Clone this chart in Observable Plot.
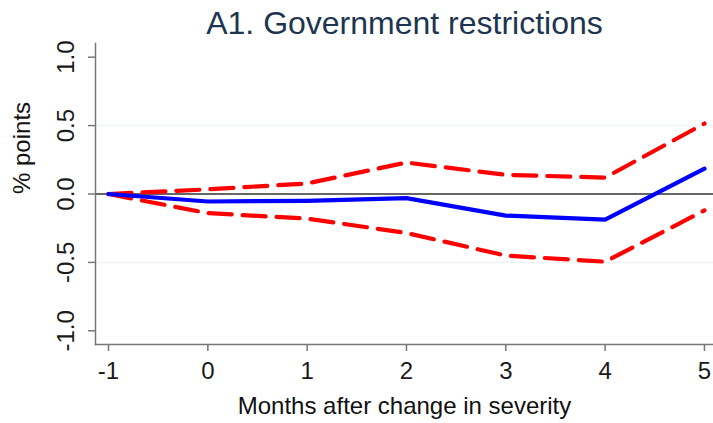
<!DOCTYPE html>
<html>
<head>
<meta charset="utf-8">
<script src="https://cdn.jsdelivr.net/npm/d3@7"></script>
<script src="https://cdn.jsdelivr.net/npm/@observablehq/plot@0.6"></script>
<style>
  html, body { margin: 0; padding: 0; background: #fff; }
  #chart svg { display: block; }
</style>
</head>
<body>
<div id="chart"></div>
<script>
// Event-study response of government restrictions (percentage points)
const months   = [-1, 0, 1, 2, 3, 4, 5];
const estimate = [0, -0.055, -0.05, -0.03, -0.158, -0.187, 0.185];
const upper    = [0, 0.034, 0.077, 0.23, 0.14, 0.12, 0.515];
const lower    = [0, -0.14, -0.18, -0.285, -0.45, -0.495, -0.12];

const xTicks = [-1, 0, 1, 2, 3, 4, 5];
const yTicks = [-1, -0.5, 0, 0.5, 1];
const gridTicks = [-0.5, 0.5];

const title = "A1. Government restrictions";
const xLabel = "Months after change in severity";
const yLabel = "% points";

const rows = (vals) => months.map((m, i) => ({month: m, value: vals[i]}));

const font = "'Liberation Sans', Arial, sans-serif";

const chart = Plot.plot({
  width: 713,
  height: 423,
  marginTop: 43,
  marginBottom: 79,
  marginLeft: 95,
  marginRight: 0,
  style: {fontFamily: font, background: "#fff", overflow: "visible"},
  x: {domain: [-1.131, 5.091]},
  y: {domain: [-1.1, 1.1]},
  marks: [
    // light gridlines at interior ticks
    Plot.ruleY(gridTicks, {stroke: "#eef3f3", strokeWidth: 1.5}),
    // reference line at zero
    Plot.ruleY([0], {stroke: "#333", strokeWidth: 1.3}),
    // confidence band edges
    Plot.line(rows(upper), {x: "month", y: "value", stroke: "#ff0000", strokeWidth: 4.2, strokeDasharray: "23,11", strokeLinejoin: "miter"}),
    Plot.line(rows(lower), {x: "month", y: "value", stroke: "#ff0000", strokeWidth: 4.2, strokeDasharray: "23,11", strokeLinejoin: "miter"}),
    // point estimate
    Plot.line(rows(estimate), {x: "month", y: "value", stroke: "#0000ff", strokeWidth: 4.2}),
    // axes
    Plot.axisY(yTicks, {
      anchor: "left",
      tickFormat: d => d.toFixed(1),
      tickSize: 7,
      tickPadding: 15,
      tickRotate: -90,
      textAnchor: "middle",
      lineAnchor: "bottom",
      fontSize: 24,
      fill: "#1a1a1a",
      stroke: "#777",
      strokeWidth: 1.5,
      label: null
    }),
    Plot.axisX(xTicks, {
      anchor: "bottom",
      tickFormat: d => String(d),
      tickSize: 7,
      tickPadding: 10,
      fontSize: 24,
      fill: "#1a1a1a",
      stroke: "#777",
      strokeWidth: 1.5,
      label: null
    }),
    Plot.frame({anchor: "left", stroke: "#777", strokeWidth: 1.5}),
    Plot.frame({anchor: "bottom", stroke: "#777", strokeWidth: 1.5}),
    // titles
    Plot.text([title], {frameAnchor: "top", dy: -10, fontSize: 32, fill: "#1e3550", lineAnchor: "bottom", fontFamily: font}),
    Plot.text([xLabel], {frameAnchor: "bottom", dy: 69, fontSize: 24, fill: "#111", lineAnchor: "bottom", fontFamily: font}),
    Plot.text([yLabel], {frameAnchor: "left", dx: -66, rotate: -90, fontSize: 24, fill: "#111", lineAnchor: "bottom", fontFamily: font})
  ]
});

document.getElementById("chart").appendChild(chart);
</script>
</body>
</html>
